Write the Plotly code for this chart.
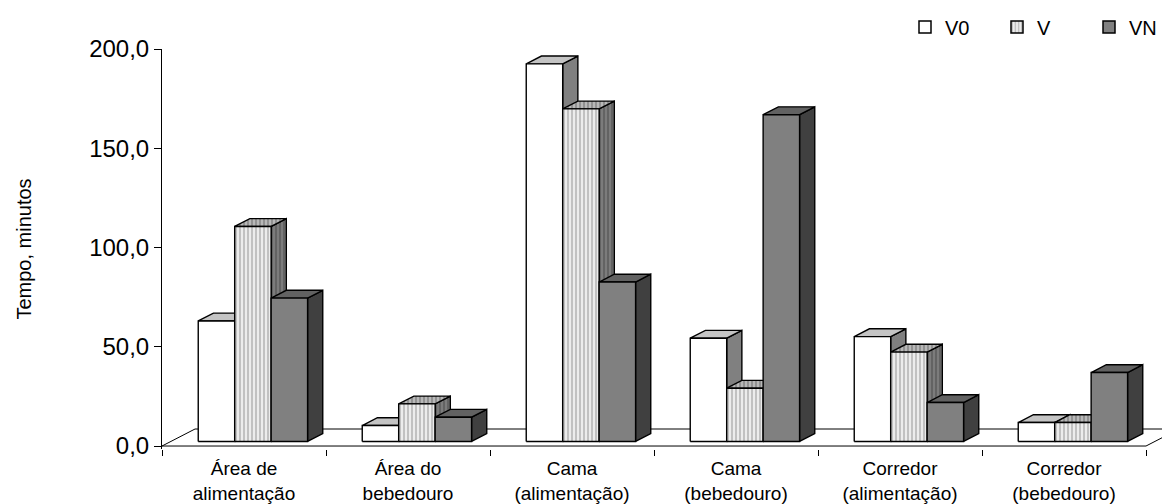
import plotly.graph_objects as go

# ---- data -------------------------------------------------------------
categories = [
    "Área de<br>alimentação",
    "Área do<br>bebedouro",
    "Cama<br>(alimentação)",
    "Cama<br>(bebedouro)",
    "Corredor<br>(alimentação)",
    "Corredor<br>(bebedouro)",
]
series_names = ["V0", "V", "VN"]
v0_values = [60.7, 8.0, 190.2, 52.0, 52.8, 9.5]
v_values = [108.3, 18.9, 167.5, 26.8, 45.0, 9.5]
vn_values = [72.2, 12.2, 80.3, 164.6, 19.6, 34.7]
y_ticks = [0, 50, 100, 150, 200]

# ---- oblique projection settings (axis units) --------------------------
N = len(categories)
FLOOR_DX = 0.2012      # depth of the floor, horizontal shift
FLOOR_DY = 8.57        # depth of the floor, vertical shift
FRONT, BACK = 0.27, 0.73   # bars occupy this slice of the floor depth
GAP = 1.5              # gap between groups, in bar widths
BW = 1.0 / (3 + GAP)
DDX = (BACK - FRONT) * FLOOR_DX
DDY = (BACK - FRONT) * FLOOR_DY
BASE = FRONT * FLOOR_DY
XSHIFT = FRONT * FLOOR_DX

FONT = "Arial, Liberation Sans, sans-serif"
EDGE = dict(color="black", width=1.4)

styles = {
    "V0": dict(front=dict(color="#ffffff"),
               top=dict(color="#c4c4c4"),
               side=dict(color="#808080")),
    "V": dict(front=dict(color="#e4e4e4",
                         pattern=dict(shape="|", fgcolor="#959595", bgcolor="#ececec",
                                      size=4, solidity=0.5)),
              top=dict(color="#b0b0b0",
                       pattern=dict(shape="|", fgcolor="#6a6a6a", bgcolor="#b8b8b8",
                                    size=4, solidity=0.5)),
              side=dict(color="#707070",
                        pattern=dict(shape="|", fgcolor="#4a4a4a", bgcolor="#7c7c7c",
                                     size=4, solidity=0.5))),
    "VN": dict(front=dict(color="#808080"),
               top=dict(color="#626262"),
               side=dict(color="#404040")),
}


def faces(values, j):
    """Polygons (front, top, side) for series j across all categories."""
    fx, fy, tx, ty, sx, sy = [], [], [], [], [], []
    for i, val in enumerate(values):
        x0 = i + (GAP / 2) * BW + j * BW + XSHIFT
        x1 = x0 + BW
        b, t = BASE, BASE + val
        fx += [x0, x1, x1, x0, x0, None]
        fy += [b, b, t, t, b, None]
        tx += [x0, x1, x1 + DDX, x0 + DDX, x0, None]
        ty += [t, t, t + DDY, t + DDY, t, None]
        sx += [x1, x1 + DDX, x1 + DDX, x1, x1, None]
        sy += [b, b + DDY, t + DDY, t, b, None]
    return (fx, fy), (tx, ty), (sx, sy)


fig = go.Figure()

# floor outline
floor_x = [0, N, None, 0, FLOOR_DX, N + FLOOR_DX, None, N, N + FLOOR_DX]
floor_y = [0, 0, None, 0, FLOOR_DY, FLOOR_DY, None, 0, FLOOR_DY]
fig.add_trace(go.Scatter(x=floor_x, y=floor_y, mode="lines",
                         line=dict(color="black", width=1),
                         hoverinfo="skip", showlegend=False))

# bars, drawn back-to-front within each group
for j, (name, vals) in enumerate(zip(series_names, [v0_values, v_values, vn_values])):
    front, top, side = faces(vals, j)
    st = styles[name]
    for key, (px, py) in (("side", side), ("top", top), ("front", front)):
        s = st[key]
        kw = dict(fillcolor=s["color"])
        if "pattern" in s:
            kw["fillpattern"] = s["pattern"]
        fig.add_trace(go.Scatter(x=px, y=py, mode="lines", fill="toself",
                                 line=EDGE, hoverinfo="skip", showlegend=False,
                                 name=name, **kw))

# legend entries
for name in series_names:
    s = styles[name]["front"]
    marker = dict(color=s["color"], line=dict(color="black", width=1.5))
    if "pattern" in s:
        marker["pattern"] = s["pattern"]
    fig.add_trace(go.Bar(x=[None], y=[None], name=name, marker=marker))

fig.update_layout(
    width=1162, height=504,
    margin=dict(l=162, r=0, t=49, b=55, autoexpand=False),
    paper_bgcolor="white", plot_bgcolor="white",
    separators=",.",
    font=dict(family=FONT, color="black"),
    legend=dict(orientation="h", x=1.019, xanchor="right", y=1.055, yanchor="middle",
                font=dict(size=20), entrywidth=47, bgcolor="rgba(0,0,0,0)"),
    xaxis=dict(type="linear", range=[0, N * 1000 / 984], showgrid=False, zeroline=False,
               tickvals=[i + 0.5 for i in range(N)], ticktext=categories,
               ticks="", tickfont=dict(size=19), ticklabelstandoff=6,
               minor=dict(tickvals=list(range(N + 1)), ticks="outside", ticklen=6,
                          tickcolor="black", showgrid=False)),
    yaxis=dict(range=[-1.5, 200], showgrid=False, zeroline=False,
               tickvals=y_ticks, tickformat=".1f", ticks="outside", ticklen=7,
               tickcolor="black", showline=True, linecolor="black", linewidth=1,
               tickfont=dict(size=24),
               title=dict(text="Tempo, minutos", font=dict(size=20), standoff=52)),
    showlegend=True,
)

fig.write_html("out.html")
